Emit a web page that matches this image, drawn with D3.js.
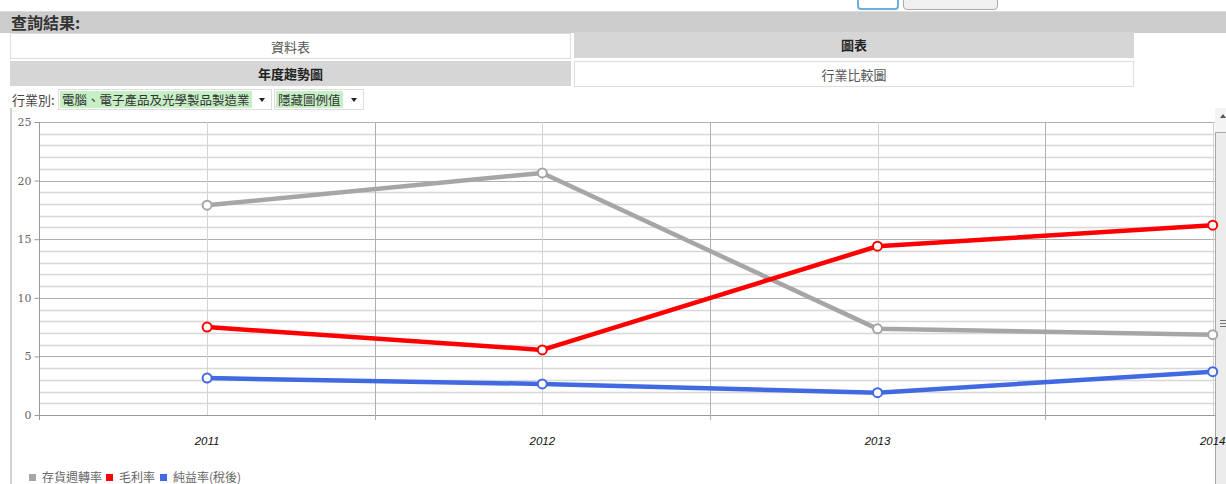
<!DOCTYPE html>
<html>
<head>
<meta charset="utf-8">
<script src="https://cdn.jsdelivr.net/npm/d3@7"></script>
<style>
  body { margin: 0; background: #fff; font-family: "Noto Sans CJK TC", "Noto Sans", sans-serif; overflow: hidden; }
  .box { position: absolute; box-sizing: border-box; }
  .cell { position: absolute; box-sizing: border-box; text-align: center; font-size: 13px; line-height: 25px; }
  .on { background: #d6d6d6; color: #222; font-weight: bold; }
  .off { background: #fff; color: #555; border: 1px solid #ddd; }
  .sel { position: absolute; top: 89px; height: 21px; box-sizing: border-box; border: 1px solid #ddd; background: #fff; font-size: 12.5px; line-height: 19px; }
  .sel span.txt { position: absolute; left: 1px; top: 1px; height: 17px; line-height: 17px; background: #c6efc6; color: #333; padding: 0 2px; }
  .sel span.arr { position: absolute; right: 6px; top: 8px; width: 0; height: 0; border-left: 3.5px solid transparent; border-right: 3.5px solid transparent; border-top: 4px solid #222; }
</style>
</head>
<body>
<div id="page" style="position:relative;width:1226px;height:484px;">
  <!-- buttons cut off at top of the screenshot -->
  <div class="box" style="left:857px;top:-20px;width:42px;height:30px;border:2px solid #6ab0de;border-radius:4px;"></div>
  <div class="box" style="left:903px;top:-20px;width:95px;height:30px;border:1px solid #aaa;border-radius:4px;background:#f0f0f0;"></div>

  <div class="box" style="left:0;top:11px;width:1226px;height:22px;background:#cccccc;border-top:1px solid #ddd;"></div>
  <div class="box" style="left:11px;top:11px;font-size:16px;font-weight:bold;color:#333;line-height:22px;">查詢結果:</div>

  <div class="cell off" style="left:10px;top:33px;width:561px;height:26px;">資料表</div>
  <div class="cell on" style="left:574px;top:32px;width:560px;height:26px;">圖表</div>
  <div class="cell on" style="left:10px;top:61px;width:561px;height:25px;">年度趨勢圖</div>
  <div class="cell off" style="left:574px;top:61px;width:560px;height:26px;">行業比較圖</div>

  <div class="box" style="left:12px;top:90px;font-size:13px;color:#444;line-height:20px;">行業別:</div>
  <div class="sel" style="left:58px;width:214px;"><span class="txt">電腦、電子產品及光學製品製造業</span><span class="arr"></span></div>
  <div class="sel" style="left:274px;width:90px;"><span class="txt">隱藏圖例值</span><span class="arr"></span></div>

  <div id="chart" style="position:absolute;left:0;top:0;"></div>
</div>

<script>
// data
var years = ["2011", "2012", "2013", "2014"];
var seriesNames = ["存貨週轉率", "毛利率", "純益率(稅後)"];
var seriesColors = ["#a6a6a6", "#ff0000", "#4169e1"];
var inventoryTurnover = [17.9, 20.65, 7.35, 6.85];
var grossMargin = [7.5, 5.55, 14.4, 16.2];
var netMargin = [3.15, 2.65, 1.9, 3.7];
var yTicks = [0, 5, 10, 15, 20, 25];

function drawChart() {
  var W = 1226, H = 484;
  var plotLeft = 39.5, plotTop = 122, plotBottom = 415;
  var visRight = 1215;   // chart is cut off by the scroll bar here

  var svg = d3.select("#chart").append("svg")
    .attr("width", W)
    .attr("height", H)
    .style("display", "block");

  var x = d3.scaleBand()
    .domain(years)
    .range([plotLeft, plotLeft + 4 * 335.2]);

  var y = d3.scaleLinear()
    .domain([0, 25])
    .range([plotBottom, plotTop]);

  // left border of the chart panel
  svg.append("line")
    .attr("x1", 11).attr("x2", 11)
    .attr("y1", 108).attr("y2", H)
    .style("stroke", "#d0d0d0")
    .style("stroke-width", 2);

  svg.append("clipPath").attr("id", "clip")
    .append("rect")
    .attr("x", 0).attr("y", 0)
    .attr("width", visRight).attr("height", H);

  var grid = svg.append("g").attr("clip-path", "url(#clip)");

  // minor horizontal lines (every 1)
  grid.selectAll("line.minor")
    .data(d3.range(0, 26).filter(function(d) { return d % 5 !== 0; }))
    .enter()
    .append("line")
    .attr("class", "minor")
    .attr("x1", plotLeft).attr("x2", x.range()[1])
    .attr("y1", function(d) { return Math.round(y(d)) + 0.5; })
    .attr("y2", function(d) { return Math.round(y(d)) + 0.5; })
    .style("stroke", "#d8d8d8")
    .style("stroke-width", 1.5);

  // major horizontal lines
  grid.selectAll("line.major")
    .data(yTicks)
    .enter()
    .append("line")
    .attr("class", "major")
    .attr("x1", plotLeft).attr("x2", x.range()[1])
    .attr("y1", function(d) { return Math.round(y(d)) + 0.5; })
    .attr("y2", function(d) { return Math.round(y(d)) + 0.5; })
    .style("stroke", function(d) { return d === 0 ? "#999" : "#b0b0b0"; })
    .style("stroke-width", 1);

  // vertical lines at the year centres (light)
  grid.selectAll("line.vc")
    .data(years)
    .enter()
    .append("line")
    .attr("class", "vc")
    .attr("x1", function(d) { return Math.round(x(d) + x.bandwidth() / 2) + 0.5; })
    .attr("x2", function(d) { return Math.round(x(d) + x.bandwidth() / 2) + 0.5; })
    .attr("y1", plotTop).attr("y2", plotBottom)
    .style("stroke", "#d4d4d4");

  // vertical lines at band edges (darker) with little ticks below the axis
  var edges = years.slice(1).map(function(d) { return x(d); });
  grid.selectAll("line.ve")
    .data(edges)
    .enter()
    .append("line")
    .attr("class", "ve")
    .attr("x1", function(d) { return Math.round(d) + 0.5; })
    .attr("x2", function(d) { return Math.round(d) + 0.5; })
    .attr("y1", plotTop).attr("y2", plotBottom + 5)
    .style("stroke", "#b0b0b0");

  // y axis line + ticks + labels
  svg.append("line")
    .attr("x1", plotLeft).attr("x2", plotLeft)
    .attr("y1", plotTop).attr("y2", plotBottom + 5)
    .style("stroke", "#999");

  var yAxis = d3.axisLeft(y)
    .tickValues(yTicks)
    .tickSize(5)
    .tickPadding(3);

  var ya = svg.append("g")
    .attr("transform", "translate(" + plotLeft + ",0)")
    .call(yAxis);
  ya.select(".domain").remove();
  ya.selectAll(".tick line").style("stroke", "#999");
  ya.selectAll(".tick text")
    .style("font-family", "'DejaVu Serif', serif")
    .style("font-size", "11px")
    .style("fill", "#666");

  // scroll bar on the right edge
  svg.append("rect")
    .attr("x", visRight).attr("y", 108)
    .attr("width", W - visRight).attr("height", H - 108)
    .style("fill", "#f4f4f4");
  svg.append("rect")
    .attr("x", visRight + 0.5).attr("y", 132.5)
    .attr("width", 12).attr("height", H - 130)
    .style("fill", "#ececec")
    .style("stroke", "#a8a8a8");
  svg.append("path")
    .attr("d", "M" + (visRight + 5) + ",118 L" + (visRight + 8) + ",114 L" + (visRight + 11) + ",118 Z")
    .style("fill", "#555");
  svg.selectAll("line.grip")
    .data([320, 323, 326])
    .enter()
    .append("line")
    .attr("class", "grip")
    .attr("x1", visRight + 5).attr("x2", visRight + 11)
    .attr("y1", function(d) { return d + 0.5; })
    .attr("y2", function(d) { return d + 0.5; })
    .style("stroke", "#777");

  // x labels
  svg.selectAll("text.xl")
    .data(years)
    .enter()
    .append("text")
    .attr("class", "xl")
    .attr("x", function(d) { return x(d) + x.bandwidth() / 2; })
    .attr("y", 445)
    .attr("text-anchor", "middle")
    .style("font-family", "'Liberation Sans', Arial, sans-serif")
    .style("font-style", "italic")
    .style("font-size", "11.5px")
    .style("fill", "#111")
    .text(function(d) { return d; });

  // series
  var allSeries = [inventoryTurnover, grossMargin, netMargin];

  var line = d3.line()
    .x(function(d, i) { return x(years[i]) + x.bandwidth() / 2; })
    .y(function(d) { return y(d); });

  allSeries.forEach(function(values, k) {
    svg.append("path")
      .datum(values)
      .attr("d", line)
      .style("fill", "none")
      .style("stroke", seriesColors[k])
      .style("stroke-width", 4.5)
      .style("stroke-linejoin", "round");
  });

  allSeries.forEach(function(values, k) {
    svg.selectAll("circle.s" + k)
      .data(values)
      .enter()
      .append("circle")
      .attr("class", "s" + k)
      .attr("cx", function(d, i) { return x(years[i]) + x.bandwidth() / 2; })
      .attr("cy", function(d) { return y(d); })
      .attr("r", 4.5)
      .style("fill", "#fff")
      .style("stroke", seriesColors[k])
      .style("stroke-width", 2);
  });

  // legend
  var legendX = [29, 106, 160];
  var legend = svg.selectAll("g.legend")
    .data(seriesNames)
    .enter()
    .append("g")
    .attr("class", "legend")
    .attr("transform", function(d, i) { return "translate(" + legendX[i] + ",478)"; });

  legend.append("rect")
    .attr("x", 0).attr("y", -4)
    .attr("width", 7).attr("height", 7)
    .style("fill", function(d, i) { return seriesColors[i]; });

  legend.append("text")
    .attr("x", 13)
    .attr("y", 4)
    .style("font-family", "'Noto Sans CJK TC', serif")
    .style("font-size", "12px")
    .style("fill", "#666")
    .text(function(d) { return d; });
}

window.onload = drawChart;
</script>
</body>
</html>
